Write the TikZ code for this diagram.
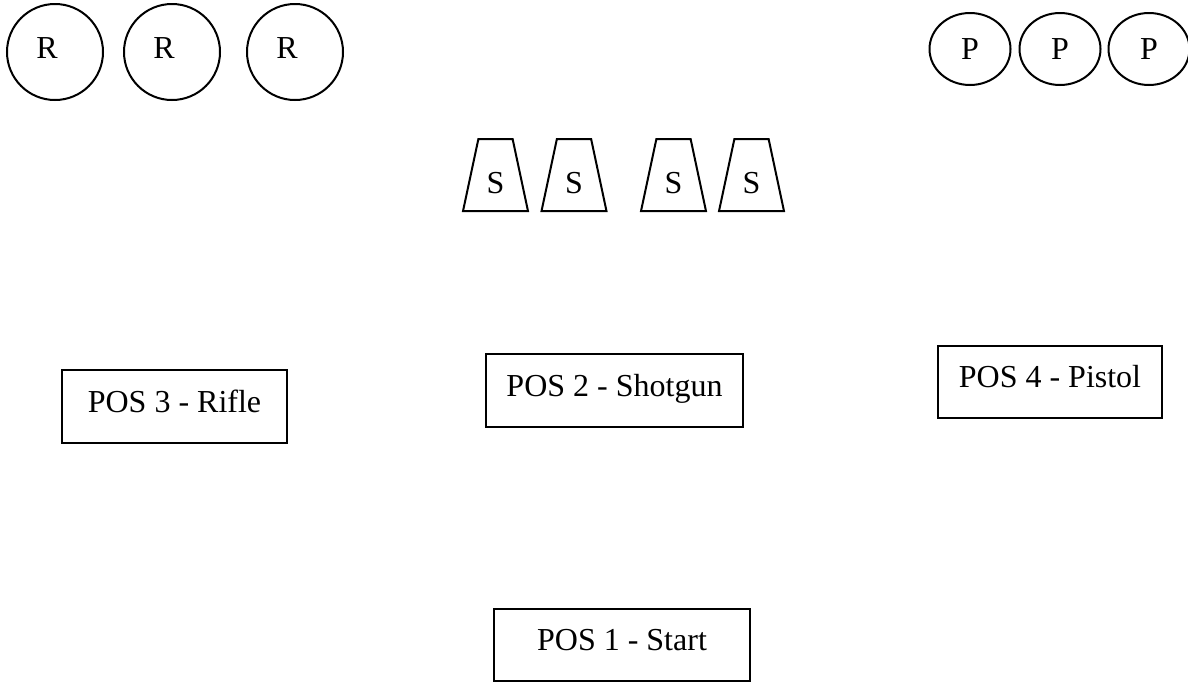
\documentclass[tikz,border=0pt]{standalone}
\usepackage{fontspec}
\setmainfont{Liberation Serif}
\usetikzlibrary{shapes.geometric}
\begin{document}
\begin{tikzpicture}[x=1pt,y=-1pt,line width=2pt,
  every node/.style={font=\fontsize{32}{38}\selectfont},
  rcirc/.style={draw,circle,minimum size=96pt,inner sep=0pt},
  pell/.style={draw,ellipse,minimum width=81pt,minimum height=72pt,inner sep=0pt},
  scup/.style={draw,trapezium,trapezium stretches=true,trapezium angle=77.5,
    minimum width=65pt,minimum height=72pt,inner sep=0pt,text height=36pt,text depth=0pt},
  posbox/.style={draw,rectangle,inner sep=0pt,text height=22pt,text depth=11pt}]
\useasboundingbox (0,0) rectangle (1188,683);
% rifle targets
\node[rcirc,label={[xshift=-8pt,yshift=4pt]center:R}] (r1) at (55,52) {};
\node[rcirc,label={[xshift=-8pt,yshift=4pt]center:R}] (r2) at (172,52) {};
\node[rcirc,label={[xshift=-8pt,yshift=4pt]center:R}] (r3) at (295,52) {};
% pistol targets
\node[pell] (p1) at (970,49) {P};
\node[pell] (p2) at (1060,49) {P};
\node[pell] (p3) at (1149,49) {P};
% shotgun targets
\node[scup] (s1) at (495.5,175) {S};
\node[scup] (s2) at (574,175) {S};
\node[scup] (s3) at (673.5,175) {S};
\node[scup] (s4) at (751.5,175) {S};
% positions
\node[posbox,minimum width=225pt,minimum height=73pt] (pos3) at (174.5,406.5) {POS 3 - Rifle};
\node[posbox,minimum width=257pt,minimum height=73pt] (pos2) at (614.5,390.5) {POS 2 - Shotgun};
\node[posbox,minimum width=224pt,minimum height=72pt] (pos4) at (1050,382) {POS 4 - Pistol};
\node[posbox,minimum width=256pt,minimum height=72pt] (pos1) at (622,645) {POS 1 - Start};
\end{tikzpicture}
\end{document}
